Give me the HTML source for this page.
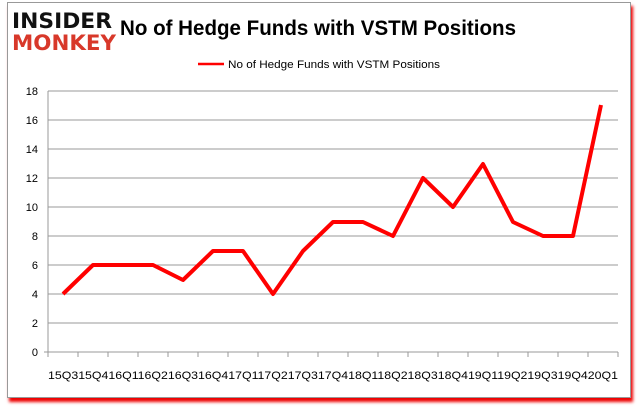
<!DOCTYPE html>
<html><head><style>
body{margin:0;background:#fff;width:637px;height:408px;overflow:hidden;position:relative;font-family:"Liberation Sans",sans-serif}
.frame{position:absolute;left:7px;top:2px;width:622px;height:394px;border:1px solid #999;background:#fff;box-shadow:2px 4px 3px #e00}
</style></head><body>
<div class="frame"></div>
<svg width="637" height="408" style="position:absolute;left:0;top:0">
<text x="12" y="28" font-family="DejaVu Sans" font-weight="bold" font-size="21" fill="#111" textLength="100" lengthAdjust="spacingAndGlyphs">INSIDER</text>
<text x="12" y="50" font-family="DejaVu Sans" font-weight="bold" font-size="21" fill="#d8382a" textLength="104" lengthAdjust="spacingAndGlyphs">MONKEY</text>
<text x="120" y="35" font-size="21" font-weight="bold" fill="#000" textLength="396" lengthAdjust="spacingAndGlyphs">No of Hedge Funds with VSTM Positions</text>
<line x1="198" y1="64" x2="224" y2="64" stroke="#f00" stroke-width="2.5"/>
<text x="228" y="68" font-size="11" fill="#000" textLength="212" lengthAdjust="spacingAndGlyphs">No of Hedge Funds with VSTM  Positions</text>
<g stroke="#999" stroke-width="1">
<line x1="48" y1="91" x2="618" y2="91"/><line x1="48" y1="120" x2="618" y2="120"/><line x1="48" y1="149" x2="618" y2="149"/><line x1="48" y1="178" x2="618" y2="178"/><line x1="48" y1="207" x2="618" y2="207"/><line x1="48" y1="236" x2="618" y2="236"/><line x1="48" y1="265" x2="618" y2="265"/><line x1="48" y1="294" x2="618" y2="294"/><line x1="48" y1="323" x2="618" y2="323"/>
<line x1="48" y1="91" x2="48" y2="352"/><line x1="44" y1="352" x2="618" y2="352"/>
</g>
<g stroke="#999" stroke-width="1">
<line x1="78" y1="352" x2="78" y2="357"/><line x1="108" y1="352" x2="108" y2="357"/><line x1="138" y1="352" x2="138" y2="357"/><line x1="168" y1="352" x2="168" y2="357"/><line x1="198" y1="352" x2="198" y2="357"/><line x1="228" y1="352" x2="228" y2="357"/><line x1="258" y1="352" x2="258" y2="357"/><line x1="288" y1="352" x2="288" y2="357"/><line x1="318" y1="352" x2="318" y2="357"/><line x1="348" y1="352" x2="348" y2="357"/><line x1="378" y1="352" x2="378" y2="357"/><line x1="408" y1="352" x2="408" y2="357"/><line x1="438" y1="352" x2="438" y2="357"/><line x1="468" y1="352" x2="468" y2="357"/><line x1="498" y1="352" x2="498" y2="357"/><line x1="528" y1="352" x2="528" y2="357"/><line x1="558" y1="352" x2="558" y2="357"/><line x1="588" y1="352" x2="588" y2="357"/><line x1="618" y1="352" x2="618" y2="357"/><line x1="48" y1="352" x2="48" y2="357"/>
</g>
<g font-size="11" fill="#000" text-anchor="end">
<text x="38" y="95">18</text><text x="38" y="124">16</text><text x="38" y="153">14</text><text x="38" y="182">12</text><text x="38" y="211">10</text><text x="38" y="240">8</text><text x="38" y="269">6</text><text x="38" y="298">4</text><text x="38" y="327">2</text><text x="38" y="356">0</text>
</g>
<text x="48" y="379" font-size="11" fill="#000" textLength="570" lengthAdjust="spacingAndGlyphs">15Q315Q416Q116Q216Q316Q417Q117Q217Q317Q418Q118Q218Q318Q419Q119Q219Q319Q420Q1</text>
<polyline fill="none" stroke="#f00" stroke-width="4" stroke-linejoin="round" points="63,294 93,265 123,265 153,265 183,280 213,251 243,251 273,294 303,251 333,222 363,222 393,236 423,178 453,207 483,164 513,222 543,236 573,236 601,105"/>
</svg>
</body></html>
